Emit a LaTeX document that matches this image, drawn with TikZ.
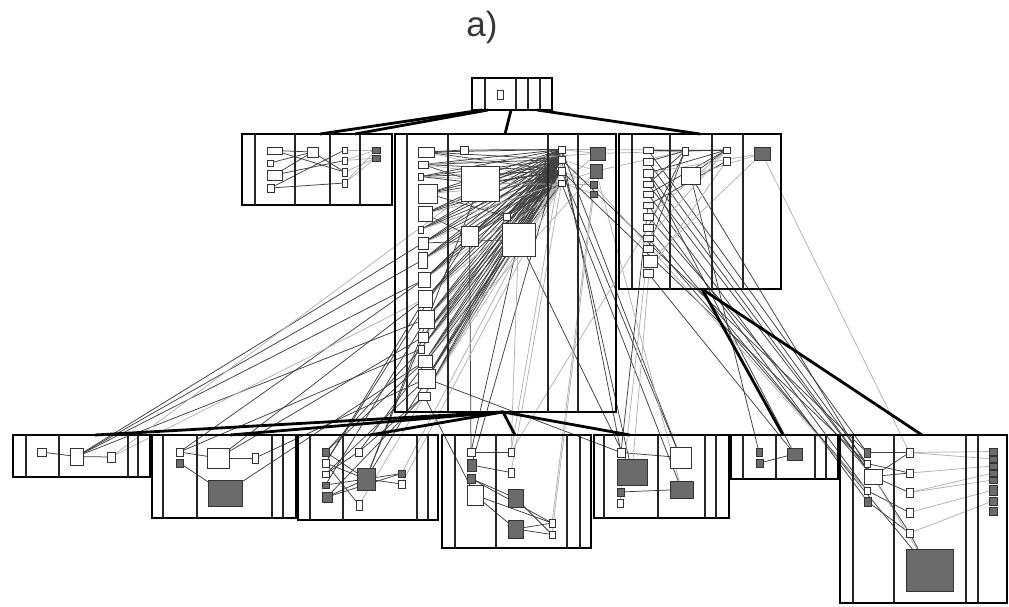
\documentclass[tikz,border=0pt]{standalone}
\usepackage{fontspec}
\setmainfont{Liberation Sans}
\pgfdeclarelayer{back}
\pgfdeclarelayer{edges}
\pgfsetlayers{back,edges,main}
\tikzset{
 cont/.style={draw=black, line width=2.6pt, rectangle, inner sep=0pt, outer sep=0pt},
 vline/.style={draw=black!85, line width=1.3pt},
 ws/.style={draw=black!80, fill=white, line width=1pt, rectangle, inner sep=0pt, outer sep=0pt},
 ds/.style={ws, fill=black!58},
 dk/.style={draw=black!75, line width=0.75pt},
 lt/.style={draw=black!30, line width=0.75pt},
 tree/.style={draw=black, line width=2.8pt},
}
\newcommand\mysq[6]{\node[#6, minimum width={(#4)-(#2)}, minimum height={(#5)-(#3)}] (#1) at ({((#2)+(#4))/2},{((#3)+(#5))/2}) {};}
\newcommand\mybox[6]{\node[cont, minimum width={(#4)-(#2)}, minimum height={(#5)-(#3)}] (#1) at ({((#2)+(#4))/2},{((#3)+(#5))/2}) {};
 \foreach \xx in {#6} \draw[vline] (\xx,#3) -- (\xx,#5);}
\begin{document}
\begin{tikzpicture}[x=1pt,y=-1pt]
\useasboundingbox (0,0) rectangle (1009,606);
\begin{pgfonlayer}{back}
\fill[white] (0,0) rectangle (1009,606);
\end{pgfonlayer}
\node[text=black!78, font=\fontsize{35}{40}\selectfont] (title) at (482,27) {a)};
% containers
\mybox{T}{472}{78}{552}{110}{485,516,528,540}
\mybox{LB}{242}{134}{392}{205}{255,295,330,360}
\mybox{MX}{395}{134}{616}{412}{407,448,548,578}
\mybox{RX}{619}{134}{781}{289}{632,670,712,743}
\mybox{BA}{13}{435}{150}{477}{26,59,128,138}
\mybox{BB}{152}{435}{296}{518}{163,197,272,283}
\mybox{BC}{298}{435}{438}{520}{310,343,417,428}
\mybox{BD}{442}{435}{591}{548}{455,496,567,580}
\mybox{BE}{594}{435}{729}{518}{604,658,705,716}
\mybox{BF}{731}{435}{838}{479}{743,776,815,826}
\mybox{BG}{840}{435}{1007}{603}{853,894,966,978}
% top
\mysq{Ts}{497}{90}{503}{99}{ws}
% left box
\mysq{L1}{267}{147}{282}{154}{ws}
\mysq{L2}{267}{160}{273}{166}{ws}
\mysq{L3}{267}{170}{282}{180}{ws}
\mysq{L4}{267}{184}{274}{192}{ws}
\mysq{L5}{307}{147}{318}{157}{ws}
\mysq{Lc1}{342}{147}{347}{153}{ws}
\mysq{Lc2}{342}{157}{347}{164}{ws}
\mysq{Lc3}{342}{168}{347}{176}{ws}
\mysq{Lc4}{342}{179}{347}{187}{ws}
\mysq{Ld1}{372}{147}{380}{153}{ds}
\mysq{Ld2}{372}{155}{380}{161}{ds}
% middle box
\mysq{Ma1}{418}{147}{434}{157}{ws}
\mysq{Ma2}{418}{161}{428}{168}{ws}
\mysq{Ma3}{418}{173}{423}{180}{ws}
\mysq{Ma4}{418}{184}{437}{203}{ws}
\mysq{Ma5}{418}{206}{432}{221}{ws}
\mysq{Ma6}{418}{226}{423}{233}{ws}
\mysq{Ma7}{418}{237}{428}{249}{ws}
\mysq{Ma8}{418}{252}{427}{268}{ws}
\mysq{Ma9}{418}{272}{430}{287}{ws}
\mysq{Ma10}{418}{290}{432}{307}{ws}
\mysq{Ma11}{418}{310}{434}{328}{ws}
\mysq{Ma12}{418}{332}{428}{342}{ws}
\mysq{Ma13}{418}{345}{424}{353}{ws}
\mysq{Ma14}{418}{355}{432}{367}{ws}
\mysq{Ma15}{418}{369}{435}{388}{ws}
\mysq{Ma16}{418}{392}{430}{400}{ws}
\mysq{Ms1}{460}{146}{468}{154}{ws}
\mysq{MB1}{461}{166}{499}{201}{ws}
\mysq{MB2}{461}{226}{478}{246}{ws}
\mysq{Ms2}{503}{213}{510}{220}{ws}
\mysq{MB3}{502}{223}{535}{256}{ws}
\mysq{Mc1}{558}{146}{565}{153}{ws}
\mysq{Mc2}{558}{156}{565}{163}{ws}
\mysq{Mc3}{558}{167}{565}{175}{ws}
\mysq{Mc4}{558}{180}{565}{186}{ws}
\mysq{Md1}{590}{147}{605}{160}{ds}
\mysq{Md2}{590}{164}{602}{178}{ds}
\mysq{Md3}{590}{181}{597}{188}{ds}
\mysq{Md4}{590}{191}{597}{197}{ds}
% right box
\foreach \n/\ya/\yb in {1/147/153,2/158/165,3/169/177,4/181/187,5/191/197,6/202/208,7/213/220,8/224/231,9/235/241,10/245/252,12/269/277}
 {\mysq{Ra\n}{643}{\ya}{653}{\yb}{ws}}
\mysq{Ra11}{643}{255}{657}{267}{ws}
\mysq{Rs}{682}{147}{688}{155}{ws}
\mysq{RB}{681}{167}{700}{184}{ws}
\mysq{Rc1}{723}{147}{730}{153}{ws}
\mysq{Rc2}{723}{157}{730}{165}{ws}
\mysq{Rd}{754}{147}{770}{160}{ds}
% B1
\mysq{A1}{37}{448}{46}{456}{ws}
\mysq{A2}{70}{448}{83}{465}{ws}
\mysq{A3}{107}{452}{115}{462}{ws}
% B2
\mysq{Bq1}{176}{448}{183}{456}{ws}
\mysq{Bq2}{176}{459}{183}{467}{ds}
\mysq{Bq3}{207}{448}{229}{468}{ws}
\mysq{Bq4}{252}{453}{258}{463}{ws}
\mysq{Bq5}{208}{480}{242}{506}{ds}
% B3
\mysq{C1}{322}{448}{329}{456}{ds}
\mysq{C2}{322}{459}{329}{467}{ws}
\mysq{C3}{322}{471}{329}{477}{ws}
\mysq{C4}{322}{482}{329}{488}{ds}
\mysq{C5}{322}{492}{332}{502}{ds}
\mysq{C6}{355}{448}{362}{456}{ws}
\mysq{C7}{357}{468}{375}{490}{ds}
\mysq{C8}{398}{470}{405}{477}{ds}
\mysq{C9}{398}{480}{405}{488}{ws}
\mysq{C10}{356}{500}{362}{510}{ws}
% B4
\mysq{D1}{467}{448}{475}{456}{ws}
\mysq{D2}{467}{459}{476}{471}{ds}
\mysq{D3}{467}{474}{475}{483}{ds}
\mysq{D4}{467}{485}{483}{505}{ws}
\mysq{D5}{508}{448}{514}{456}{ws}
\mysq{D6}{508}{468}{514}{477}{ws}
\mysq{D7}{508}{489}{523}{507}{ds}
\mysq{D8}{508}{520}{523}{538}{ds}
\mysq{D9}{549}{519}{555}{527}{ws}
\mysq{D10}{549}{531}{555}{538}{ws}
% B5
\mysq{E1}{617}{448}{625}{457}{ws}
\mysq{E2}{617}{459}{647}{485}{ds}
\mysq{E3}{617}{488}{624}{496}{ds}
\mysq{E4}{617}{499}{623}{507}{ws}
\mysq{E5}{670}{447}{691}{468}{ws}
\mysq{E6}{670}{481}{693}{498}{ds}
% B6
\mysq{F1}{756}{448}{762}{456}{ds}
\mysq{F2}{756}{459}{763}{467}{ds}
\mysq{F3}{787}{448}{802}{460}{ds}
% B7
\mysq{G1}{864}{448}{870}{457}{ds}
\mysq{G2}{864}{460}{870}{467}{ws}
\mysq{G3}{864}{469}{882}{484}{ws}
\mysq{G4}{864}{487}{870}{494}{ws}
\mysq{G5}{864}{497}{871}{506}{ds}
\foreach \n/\ya/\yb in {1/448/457,2/469/477,3/488/497,4/508/517,5/529/537}
 {\mysq{H\n}{906}{\ya}{913}{\yb}{ws}}
\foreach \n/\ya/\yb in {1/448/455,2/456/462,3/463/469,4/470/476,5/477/483,6/485/495,7/497/505,8/507/515}
 {\mysq{K\n}{989}{\ya}{997}{\yb}{ds}}
\mysq{GB}{906}{549}{953}{591}{ds}
% tree edge end points
\coordinate (t1) at (482,110); \coordinate (t2) at (488,110);
\coordinate (t3) at (511,110); \coordinate (t4) at (537,110);
\coordinate (l1) at (320,134); \coordinate (l2) at (355,134);
\coordinate (m0) at (505,134); \coordinate (r0) at (700,134);
\coordinate (mb) at (503,412); \coordinate (rb) at (702,289);
\coordinate (b1) at (95,435); \coordinate (b2) at (230,435);
\coordinate (b3) at (370,435); \coordinate (b4) at (515,435);
\coordinate (b5) at (630,435); \coordinate (b6) at (783,435);
\coordinate (b7) at (922,435);
\draw[tree] (t1) -- (l1);
\draw[tree] (t2) -- (l2);
\draw[tree] (t3) -- (m0);
\draw[tree] (t4) -- (r0);
\foreach \e in {b1,b2,b3,b4,b5} \draw[tree] (mb) -- (\e);
\foreach \e in {b6,b7} \draw[tree] (rb) -- (\e);
% thin connectors
\begin{pgfonlayer}{edges}
% left box
\foreach \a/\b in {L2/L5,L1/Lc3,L3/L5,L3/Lc2,L4/Lc1,L4/Lc4,L5/Lc3,L1/L5}
 \draw[dk] (\a) -- (\b);
\foreach \a/\b in {Lc1/Ld1,Lc2/Ld1,Lc2/Ld2,Lc3/Ld2,Lc4/Ld1,Lc4/Ld2}
 \draw[lt] (\a) -- (\b);
% middle box hairball
\foreach \i in {1,...,16} {
 \foreach \j in {1,2,3} \draw[dk] (Ma\i) -- (Mc\j);
 \draw[lt] (Ma\i) -- (Mc4);
}
\foreach \a in {MB1,MB2,MB3,Ms2} \foreach \j in {1,2,3,4} \draw[dk] (\a) -- (Mc\j);
\foreach \a/\b in {Ma1/Ms1,Ms1/Mc1,Ma2/MB1,Ma3/MB1,Ma5/MB2,Ma7/MB3,Ma9/MB2,Ma4/Ms2}
 \draw[dk] (\a) -- (\b);
\foreach \a/\b in {Ma2/Md1,Ma6/Md2,Ma10/Md1,Ma14/Md2,MB1/Md3,Mc1/Md1,Mc2/Md2,Mc3/Md3,Mc4/Md4,Md1/Rc1,Md2/Rs,Mc1/Rc1}
 \draw[lt] (\a) -- (\b);
% middle to bottom
\foreach \a/\b in {A1/A2,A2/A3,A2/Ma7,A2/Ma8,A2/Ma9,A2/Ma11,
 Bq1/Bq3,Bq2/Bq5,Bq3/Bq4,Bq3/Ma10,Bq3/Ma12,Bq1/Ma13,Bq5/Ma14,Bq4/Ma15,Bq1/Ma9,
 C1/C7,C2/C7,C4/C7,C5/C7,C5/C8,C7/C8,C7/C9,C3/C6,C2/C10,
 C1/Ma13,C1/Ma14,C2/MB2,C3/Ma15,C4/Ma11,C5/Ma16,C6/Ma16,C7/MB1,C7/Mc2,C2/Ma10,C6/MB3,C7/Ma12,
 D1/D5,D2/D6,D3/D7,D4/D8,D4/D9,D7/D10,D8/D9,D8/D10,D3/D9,D1/MB3,D2/Mc1,D4/Ma16,MB2/D1,
 E1/E5,E3/E6,E1/Ma15,E1/Mc1,E2/Mc2,E5/Mc3,E6/Mc4,E5/Mc1,MB3/E2,Ra6/E1}
 \draw[dk] (\a) -- (\b);
\foreach \a/\b in {A3/Ma10,A3/MB1,C8/Mc3,C9/Mc4,C10/MB3,D5/Mc2,D6/Mc4,D9/Md3,D10/Md4,E6/Md2,MB3/D5,Ra8/D5,E2/Ra11,E4/Ra10}
 \draw[lt] (\a) -- (\b);
% right box
\foreach \a/\b in {Ra1/Rs,Ra2/Rs,Ra3/Rc1,Ra4/Rs,RB/Rc1,Rs/Rc1,Ra1/Rc1,Ra5/Rc1,Ra8/Rs,Ra10/Rs,Ra6/Rc2,
 Ra1/G1,Ra2/G2,Ra3/G3,Ra4/G3,Ra5/G4,Ra6/G5,Ra7/G3,Ra8/GB,RB/G3,Ra3/F3,RB/F1,Ra12/F3,Ra9/G4,
 F2/F3,Mc2/G1,Mc3/G2,
 G3/H1,G3/H2,G3/H3,G1/H1,G2/H2,G4/H4,G5/H5,G3/H5,H5/GB}
 \draw[dk] (\a) -- (\b);
\foreach \a/\b in {RB/Rd,Ra9/Rc1,Ra11/Rd,Ra7/Rc1,Ra3/Rd,Ra12/Rc2,Rd/H1,Md3/G4,G3/GB,
 H1/K1,H2/K3,H3/K4,H4/K6,H5/K7,H1/K2,H3/K5}
 \draw[lt] (\a) -- (\b);
\end{pgfonlayer}
\end{tikzpicture}
\end{document}
